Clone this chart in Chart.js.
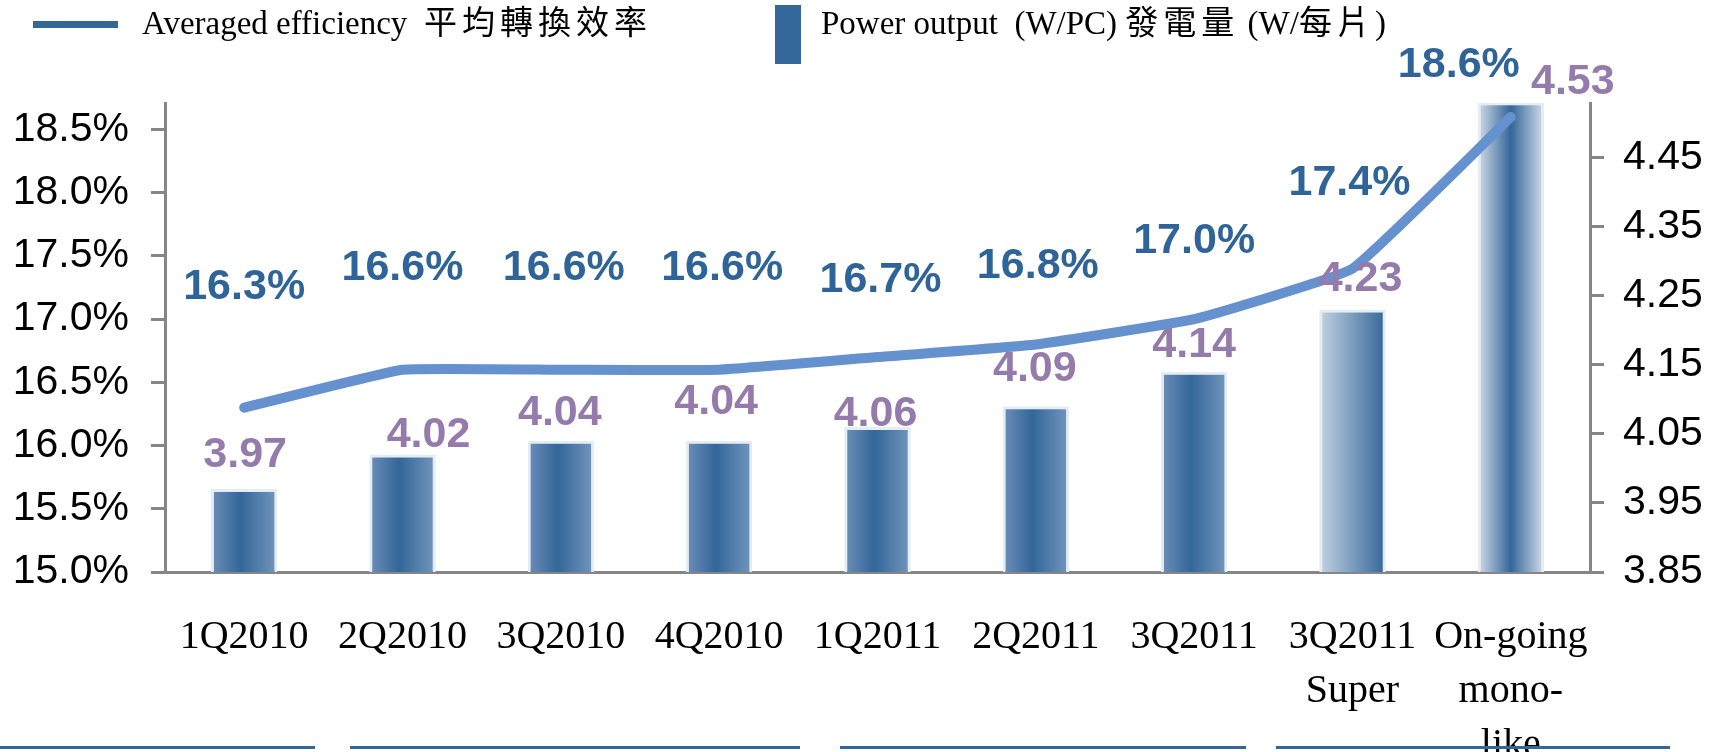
<!DOCTYPE html>
<html>
<head>
<meta charset="utf-8">
<script src="https://cdn.jsdelivr.net/npm/chart.js@4.4.0/dist/chart.umd.min.js"></script>
<style>
  body { margin: 0; background: #fff; }
  #wrap { position: relative; width: 1717px; height: 752px; }
  .leg { position: absolute; font-family: "Liberation Serif", "Noto Sans CJK TC", serif; font-size: 33px; color: #000; white-space: pre; line-height: 1; }
  .leg .cjk { letter-spacing: 5px; font-size: 33px; }
  .sw { position: absolute; background: #336699; }
  .rule { position: absolute; top: 746px; height: 3px; background: #336699; }
</style>
</head>
<body>
<div id="wrap">
  <canvas id="myChart"></canvas>
  <div class="sw" style="left:33px;top:21px;width:85px;height:7px"></div>
  <div class="leg" style="left:142px;top:7px">Averaged efficiency  <span class="cjk">平均轉換效率</span></div>
  <div class="sw" style="left:775px;top:5px;width:26px;height:59px"></div>
  <div class="leg" style="left:821px;top:7px">Power output  (W/PC) <span class="cjk">發電量</span> (W/<span class="cjk">每片</span>)</div>
  <div class="rule" style="left:0;width:315px"></div>
  <div class="rule" style="left:350px;width:450px"></div>
  <div class="rule" style="left:840px;width:406px"></div>
  <div class="rule" style="left:1276px;width:394px"></div>
</div>
<script>
let labels = ['1Q2010', '2Q2010', '3Q2010', '4Q2010', '1Q2011', '2Q2011', '3Q2011', ['3Q2011', 'Super'], ['On-going', 'mono-', 'like']];
let efficiency = [16.3, 16.6, 16.6, 16.6, 16.7, 16.8, 17.0, 17.4, 18.6];
let power = [3.97, 4.02, 4.04, 4.04, 4.06, 4.09, 4.14, 4.23, 4.53];
let effTicks = [15.0, 15.5, 16.0, 16.5, 17.0, 17.5, 18.0, 18.5];
let powerTicks = [3.85, 3.95, 4.05, 4.15, 4.25, 4.35, 4.45];

// label nudges, copied from the slide layout
let pctDx = [0, 0, 3, 3, 3, 2, 0, -3, -52];
let pctDy = [-121, -102, -102, -102, -77, -78, -78, -85, -52];
let powDx = [1, 26, -1, -3, -2, -1, 0, 8, 62];
let powDy = [-34, -19, -28, -39, -13, -37, -27, -30, -20];

const axisGrey = '#868686';
const barPct = 0.42;

function barFill(c) {
  if (c.type !== 'data') return '#336699';
  let chart = c.chart;
  if (!chart.chartArea) return '#336699';
  let xs = chart.scales.x;
  let cx = xs.getPixelForValue(c.dataIndex);
  let w = xs.width / labels.length * barPct;
  let g = chart.ctx.createLinearGradient(cx - w / 2, 0, cx + w / 2, 0);
  if (c.dataIndex === 7) {
    g.addColorStop(0, '#c3d3e2');
    g.addColorStop(1, '#336699');
  } else if (c.dataIndex === 8) {
    g.addColorStop(0, '#d3dee9');
    g.addColorStop(0.5, '#336699');
    g.addColorStop(1, '#d3dee9');
  } else {
    g.addColorStop(0, '#6d8fb8');
    g.addColorStop(0.45, '#336699');
    g.addColorStop(1, '#7397bd');
  }
  return g;
}

const valueLabels = {
  id: 'valueLabels',
  afterDatasetsDraw(chart) {
    let ctx = chart.ctx;
    ctx.save();
    ctx.textAlign = 'center';
    ctx.textBaseline = 'middle';
    ctx.font = 'bold 43px "Liberation Sans", Arial, sans-serif';
    let barMeta = chart.getDatasetMeta(1);
    ctx.fillStyle = '#957bab';
    barMeta.data.forEach((el, i) => {
      ctx.fillText(power[i].toFixed(2), el.x + powDx[i], el.y + powDy[i]);
    });
    let lineMeta = chart.getDatasetMeta(0);
    ctx.fillStyle = '#2f6499';
    lineMeta.data.forEach((el, i) => {
      ctx.fillText(efficiency[i].toFixed(1) + '%', el.x + pctDx[i], el.y + pctDy[i]);
    });
    ctx.restore();
  }
};

let ctx = document.getElementById('myChart').getContext('2d');
let myChart = new Chart(ctx, {
  data: {
    labels: labels,
    datasets: [{
      type: 'line',
      label: 'Averaged efficiency',
      data: efficiency,
      yAxisID: 'yEff',
      borderColor: '#6591ce',
      borderWidth: 10,
      borderCapStyle: 'round',
      borderJoinStyle: 'round',
      pointRadius: 0,
      tension: 0.1,
      order: 0
    }, {
      type: 'bar',
      label: 'Power output',
      data: power,
      yAxisID: 'yPow',
      backgroundColor: barFill,
      borderColor: '#e4edf4',
      borderWidth: 3,
      barPercentage: barPct,
      categoryPercentage: 1,
      order: 1
    }]
  },
  options: {
    responsive: true,
    maintainAspectRatio: false,
    animation: false,
    layout: { padding: { top: 103, left: 0, right: 0, bottom: 0 } },
    plugins: {
      legend: { display: false },
      tooltip: { enabled: false }
    },
    scales: {
      x: {
        grid: { display: false },
        border: { display: true, color: axisGrey, width: 3 },
        afterFit: (s) => { s.height = 180; },
        ticks: {
          autoSkip: false,
          maxRotation: 0,
          padding: 30,
          color: '#000',
          font: { family: '"Liberation Serif", "Times New Roman", serif', size: 40, lineHeight: 1.35 }
        }
      },
      yEff: {
        position: 'left',
        min: 15.0,
        max: 18.71,
        afterBuildTicks: (s) => { s.ticks = effTicks.map(v => ({ value: v })); },
        afterFit: (s) => { s.width = 165; },
        grid: { display: true, drawOnChartArea: false, drawTicks: true, tickLength: 14, color: axisGrey, lineWidth: 3 },
        border: { display: true, color: axisGrey, width: 3 },
        ticks: {
          padding: 22,
          color: '#000',
          font: { family: '"Liberation Sans", Arial, sans-serif', size: 41 },
          callback: (v) => v.toFixed(1) + '%'
        }
      },
      yPow: {
        position: 'right',
        min: 3.85,
        max: 4.529,
        afterBuildTicks: (s) => { s.ticks = powerTicks.map(v => ({ value: v })); },
        afterFit: (s) => { s.width = 127; },
        grid: { display: true, drawOnChartArea: false, drawTicks: true, tickLength: 14, color: axisGrey, lineWidth: 3 },
        border: { display: true, color: axisGrey, width: 3 },
        ticks: {
          padding: 19,
          color: '#000',
          font: { family: '"Liberation Sans", Arial, sans-serif', size: 41 },
          callback: (v) => v.toFixed(2)
        }
      }
    }
  },
  plugins: [valueLabels]
});
</script>
</body>
</html>
